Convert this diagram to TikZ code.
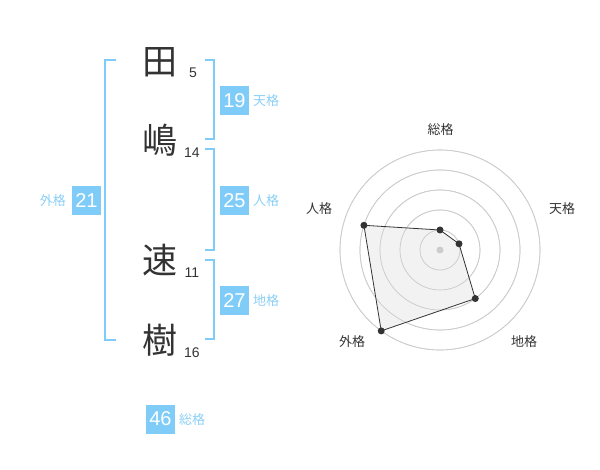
\documentclass[tikz,border=0pt]{standalone}
\usepackage{fontspec}
\setmainfont{Liberation Sans}
\newfontfamily\cjk{Noto Sans CJK JP}
\definecolor{kblue}{HTML}{80CCF9}
\definecolor{klabel}{HTML}{8ACFF5}
\definecolor{kdark}{HTML}{333333}
\definecolor{kring}{HTML}{CCCCCC}
\definecolor{kfill}{HTML}{F0F0F0}
\begin{document}
\begin{tikzpicture}[x=1pt,y=-1pt,
  kanji/.style={font=\cjk\fontsize{35}{35}\selectfont, text=kdark, inner sep=0},
  strk/.style={font=\fontsize{14}{14}\selectfont, text=kdark, inner sep=0},
  valbox/.style={fill=kblue, text=white, font=\fontsize{20}{20}\selectfont, minimum width=29pt, minimum height=29pt, inner sep=0},
  klab/.style={font=\cjk\fontsize{13}{13}\selectfont, text=klabel, inner sep=0},
  brk/.style={draw=kblue, line width=2pt},
  ring/.style={draw=kring, line width=0.7pt},
  rlab/.style={font=\cjk\fontsize{13}{13}\selectfont, text=kdark, inner sep=0},
  vdot/.style={circle, fill=kdark, inner sep=0, minimum size=7pt}]
\useasboundingbox (0,0) rectangle (600,470);

% name characters
\node[kanji] (c1) at (160,62) {田};
\node[kanji] (c2) at (160,140) {嶋};
\node[kanji] (c3) at (160,260) {速};
\node[kanji] (c4) at (160,340) {樹};
\node[strk] (n1) at (193,73) {5};
\node[strk] (n2) at (192,152.5) {14};
\node[strk] (n3) at (192,272.5) {11};
\node[strk] (n4) at (192,352.5) {16};

% brackets
\draw[brk] (116,60) -- (105,60) -- (105,340) -- (116,340);
\draw[brk] (205,60) -- (214,60) -- (214,139) -- (205,139);
\draw[brk] (205,149) -- (214,149) -- (214,250) -- (205,250);
\draw[brk] (205,260) -- (214,260) -- (214,339) -- (205,339);

% value boxes and labels
\node[valbox] (v1) at (234.5,100.5) {19};
\node[klab, anchor=west] (l1) at (253,101) {天格};
\node[valbox] (v2) at (234.5,200.5) {25};
\node[klab, anchor=west] (l2) at (253,201) {人格};
\node[valbox] (v3) at (86.5,200.5) {21};
\node[klab, anchor=east] (l3) at (66,201) {外格};
\node[valbox] (v4) at (234.5,300.5) {27};
\node[klab, anchor=west] (l4) at (253,301) {地格};
\node[valbox] (v5) at (160.5,419) {46};
\node[klab, anchor=west] (l5) at (179,420) {総格};

% radar chart
\begin{scope}[shift={(440,250)}, yscale=-1]
  \foreach \r in {20,40,60,80,100} \draw[ring] (0,0) circle[radius=\r];
  \coordinate (p1) at (90:20);
  \coordinate (p2) at (18:20);
  \coordinate (p3) at (-54:60);
  \coordinate (p4) at (-126:100);
  \coordinate (p5) at (162:80);
  \fill[kfill, fill opacity=0.85] (p1) -- (p2) -- (p3) -- (p4) -- (p5) -- cycle;
  \foreach \r in {20,40,60,80,100} \draw[ring] (0,0) circle[radius=\r];
  \draw[kdark, line width=0.8pt] (p1) -- (p2) -- (p3) -- (p4) -- (p5) -- cycle;
  \node[circle, fill=kring, inner sep=0, minimum size=7pt] (ctr) at (0,0) {};
  \node[vdot] (d1) at (p1) {};
  \node[vdot] (d2) at (p2) {};
  \node[vdot] (d3) at (p3) {};
  \node[vdot] (d4) at (p4) {};
  \node[vdot] (d5) at (p5) {};
\end{scope}
\node[rlab] (r1) at (440.5,130) {総格};
\node[rlab] (r2) at (562,209) {天格};
\node[rlab] (r3) at (524,342) {地格};
\node[rlab] (r4) at (352,342) {外格};
\node[rlab] (r5) at (319,209) {人格};
\end{tikzpicture}
\end{document}
